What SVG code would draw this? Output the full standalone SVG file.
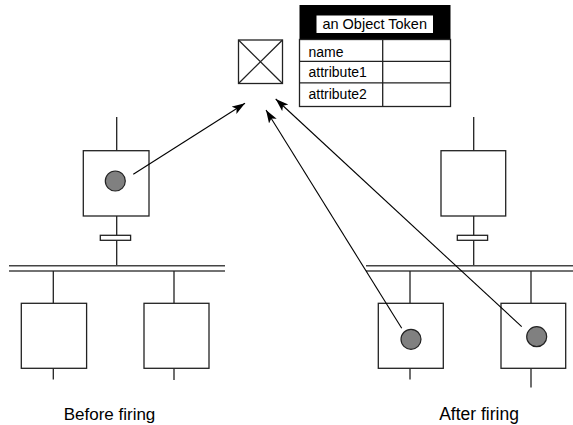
<svg xmlns="http://www.w3.org/2000/svg" width="573" height="425" viewBox="0 0 573 425">
<style>
.box{fill:#fff;stroke:#222;stroke-width:1.3}
.ln{stroke:#222;stroke-width:1.3;fill:none}
.bar{stroke:#444;stroke-width:1.6;fill:none}
.tok{fill:#808080;stroke:#222;stroke-width:1.2}
.arr{stroke:#000;stroke-width:1.1;fill:none;marker-end:url(#ah)}
.t{font-family:"Liberation Sans",Arial,sans-serif;fill:#000}
</style>
<defs>
<marker id="ah" markerUnits="userSpaceOnUse" markerWidth="14" markerHeight="10" refX="13" refY="4.5" orient="auto">
<path d="M0,0 L13,4.5 L0,9 L3,4.5 Z" fill="#000"/>
</marker>
</defs>
<rect width="573" height="425" fill="#fff"/>
<g id="objectSymbol">
<rect class="box" x="238.5" y="40" width="44" height="43.5"/>
<path class="ln" d="M238.5,40 L282.5,83.5 M282.5,40 L238.5,83.5"/>
</g>
<g id="objectToken">
<rect x="299.5" y="5" width="151" height="34.5" fill="#000"/>
<rect x="316.5" y="15.5" width="116.5" height="17.5" fill="#fff"/>
<text class="t" x="374.7" y="28.5" font-size="14.5" text-anchor="middle">an Object Token</text>
<rect class="box" x="299.5" y="39.5" width="151" height="67"/>
<path class="ln" d="M299.5,61.3 H450.5 M299.5,82.8 H450.5 M382.7,39.5 V106.5"/>
<text class="t" x="308.5" y="56.5" font-size="14">name</text>
<text class="t" x="308.5" y="76.5" font-size="14">attribute1</text>
<text class="t" x="308.5" y="98.5" font-size="14">attribute2</text>
</g>
<g id="before">
<path class="ln" d="M116.7,117 V150.7 M116.7,216 V265.7"/>
<rect class="box" x="83.3" y="150.7" width="65.7" height="65.3"/>
<circle class="tok" cx="115.3" cy="181" r="10"/>
<rect class="box" x="100.3" y="235.3" width="30.3" height="5"/>
<path class="bar" d="M9,265.7 H225 M9,271 H225"/>
<path class="ln" d="M53.3,271 V303.3 M53.3,368.3 V379.5 M174,271 V303.3 M174,368.3 V380"/>
<rect class="box" x="21.3" y="303.3" width="65.3" height="65"/>
<rect class="box" x="144" y="303.3" width="65" height="65"/>
<text class="t" x="109.5" y="420" font-size="17" text-anchor="middle">Before firing</text>
</g>
<g id="after">
<path class="ln" d="M473.7,117 V150.7 M473.7,216 V265.7"/>
<rect class="box" x="441" y="150.7" width="64.7" height="65.3"/>
<rect class="box" x="457.3" y="235.3" width="30.3" height="5"/>
<path class="bar" d="M366,265.7 H573 M366,271 H573"/>
<path class="ln" d="M410,271 V303.3 M410,368.3 V379.5 M531,271 V303.3 M531,368.3 V387.5"/>
<rect class="box" x="378.3" y="303.3" width="65" height="65"/>
<rect class="box" x="501" y="303.3" width="64.7" height="65"/>
<circle class="tok" cx="411" cy="339.3" r="10"/>
<circle class="tok" cx="536.7" cy="336.7" r="10"/>
<text class="t" x="479" y="420" font-size="17.5" text-anchor="middle">After firing</text>
</g>
<g id="connectors">
<line class="arr" x1="133.3" y1="174.3" x2="245" y2="103.3"/>
<line class="arr" x1="401.7" y1="328.3" x2="266" y2="110"/>
<line class="arr" x1="521.7" y1="326.7" x2="275.7" y2="99"/>
</g>
</svg>
